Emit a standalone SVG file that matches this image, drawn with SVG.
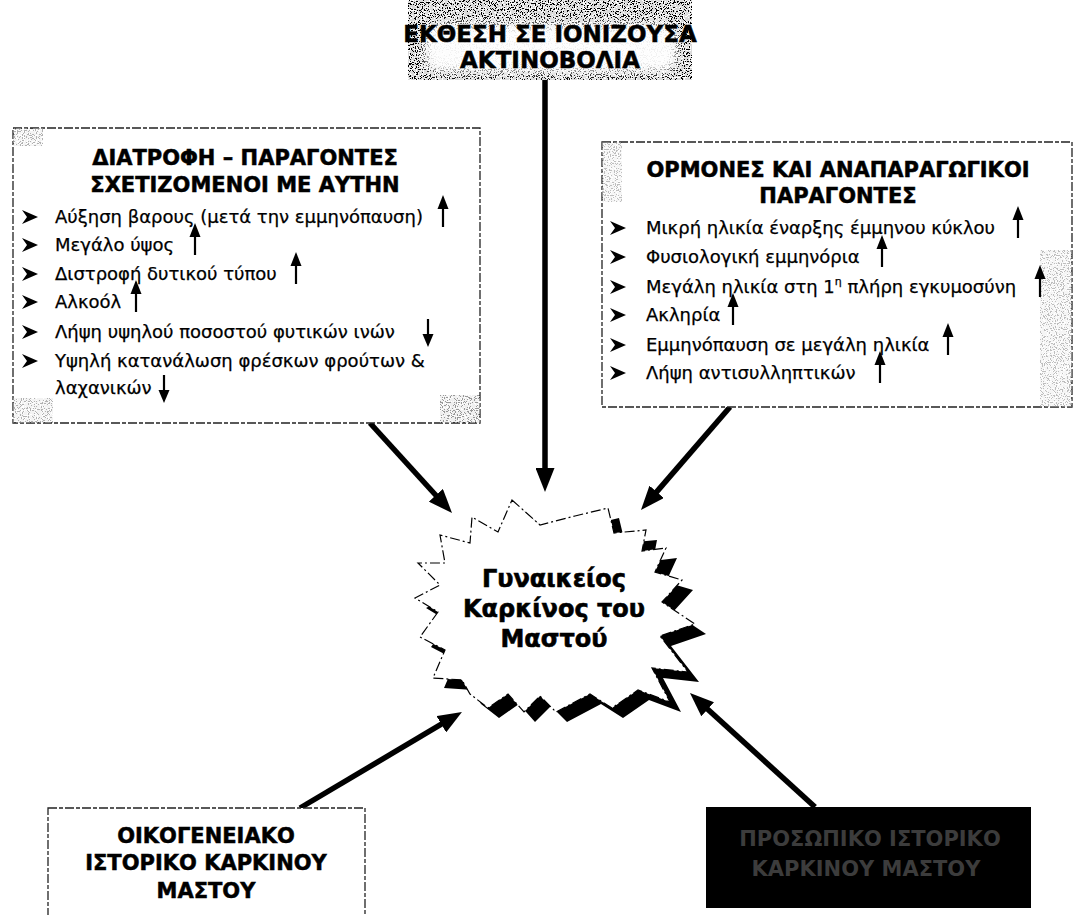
<svg xmlns="http://www.w3.org/2000/svg" width="1074" height="915" viewBox="0 0 1074 915">
<defs>
<style>
.hdr{font-family:"DejaVu Sans","Verdana",sans-serif;font-weight:bold;font-size:21px;fill:#000;text-anchor:middle;stroke:#000;stroke-width:0.5}
.body{font-family:"DejaVu Sans","Tahoma",sans-serif;font-size:18px;fill:#000;stroke:#000;stroke-width:0.25}
.box{fill:#fff;stroke:#222;stroke-width:1.3;stroke-dasharray:9 2 4 2}
.conn{stroke:#000;stroke-width:5.5;fill:none;marker-end:url(#ah)}
.burst{font-family:"DejaVu Sans",sans-serif;font-weight:bold;font-size:24px;fill:#000;text-anchor:middle;stroke:#000;stroke-width:0.6}
</style>
<marker id="ah" markerUnits="userSpaceOnUse" viewBox="0 0 24 19" markerWidth="24" markerHeight="19" refX="3" refY="9.5" orient="auto">
<path d="M0,0 L24,9.5 L0,19 z" fill="#000"/>
</marker>
<symbol id="bul" overflow="visible"><path d="M0,-13 L16,-6 L0,1 L5,-6 z" fill="#000"/></symbol>
<symbol id="up" overflow="visible"><path d="M0,4 V-15" stroke="#000" stroke-width="2.2"/><path d="M-5.5,-14 L0,-28 L5.5,-14 z" fill="#000"/></symbol>
<symbol id="dn" overflow="visible"><path d="M0,-19 V-2" stroke="#000" stroke-width="2.2"/><path d="M-5.5,-4 L0,9 L5.5,-4 z" fill="#000"/></symbol>
<filter id="speckle" filterUnits="objectBoundingBox" x="0" y="0" width="1" height="1">
<feTurbulence type="fractalNoise" baseFrequency="0.85" numOctaves="2" seed="4" result="n"/>
<feColorMatrix in="n" type="saturate" values="0" result="g"/>
<feComponentTransfer in="g">
<feFuncR type="discrete" tableValues="0 0 0 0.7 1 1 1"/>
<feFuncG type="discrete" tableValues="0 0 0 0.7 1 1 1"/>
<feFuncB type="discrete" tableValues="0 0 0 0.7 1 1 1"/>
<feFuncA type="table" tableValues="1 1"/>
</feComponentTransfer>
</filter>
<filter id="speckleDark" filterUnits="objectBoundingBox" x="0" y="0" width="1" height="1">
<feTurbulence type="fractalNoise" baseFrequency="0.9" numOctaves="2" seed="9" result="n"/>
<feColorMatrix in="n" type="saturate" values="0" result="g"/>
<feComponentTransfer in="g">
<feFuncR type="discrete" tableValues="0 0 0 0 0 0.9"/>
<feFuncG type="discrete" tableValues="0 0 0 0 0 0.9"/>
<feFuncB type="discrete" tableValues="0 0 0 0 0 0.9"/>
<feFuncA type="table" tableValues="1 1"/>
</feComponentTransfer>
</filter>
<filter id="soft" x="-20%" y="-50%" width="140%" height="200%"><feGaussianBlur stdDeviation="5"/></filter>
</defs>
<rect width="1074" height="915" fill="#fff"/>

<g id="connectors">
<line class="conn" x1="545" y1="78" x2="545" y2="471"/>
<line class="conn" x1="370" y1="423" x2="437.9" y2="497.5"/>
<line class="conn" x1="730" y1="407" x2="654.7" y2="494.1"/>
<line class="conn" x1="300" y1="808" x2="443.9" y2="722.7"/>
<line class="conn" x1="815" y1="807" x2="705.5" y2="707.2"/>
</g>

<g id="node-radiation">
<rect x="408" y="0" width="284" height="80" filter="url(#speckle)"/>
<rect x="425" y="24" width="252" height="48" rx="14" fill="#fff" opacity="0.95" filter="url(#soft)"/>
<text class="hdr" style="font-size:23px" x="550" y="42">ΕΚΘΕΣΗ ΣΕ ΙΟΝΙΖΟΥΣΑ</text>
<text class="hdr" style="font-size:23px" x="550" y="68">ΑΚΤΙΝΟΒΟΛΙΑ</text>
</g>

<g id="node-diet">
<rect class="box" x="13" y="128" width="467" height="295"/>
<rect x="13" y="128" width="30" height="18" filter="url(#speckle)" opacity="0.3"/>
<rect x="440" y="395" width="40" height="28" filter="url(#speckle)" opacity="0.4"/>
<rect x="13" y="398" width="40" height="25" filter="url(#speckle)" opacity="0.3"/>
<text class="hdr" x="245" y="165">ΔΙΑΤΡΟΦΗ – ΠΑΡΑΓΟΝΤΕΣ</text>
<text class="hdr" x="245" y="192">ΣΧΕΤΙΖΟΜΕΝΟΙ ΜΕ ΑΥΤΗΝ</text>
<use href="#bul" x="22" y="223"/>
<text class="body" x="55" y="223">Αύξηση βαρους (μετά την εμμηνόπαυση)</text>
<use href="#up" x="443" y="223"/>
<use href="#bul" x="22" y="251"/>
<text class="body" x="55" y="251">Μεγάλο ύψος</text>
<use href="#up" x="195" y="251"/>
<use href="#bul" x="22" y="280"/>
<text class="body" x="55" y="280">Διστροφή δυτικού τύπου</text>
<use href="#up" x="296" y="280"/>
<use href="#bul" x="22" y="308"/>
<text class="body" x="55" y="308">Αλκοόλ</text>
<use href="#up" x="136" y="308"/>
<use href="#bul" x="22" y="338"/>
<text class="body" x="55" y="338">Λήψη υψηλού ποσοστού φυτικών ινών</text>
<use href="#dn" x="428" y="338"/>
<use href="#bul" x="22" y="367"/>
<text class="body" x="55" y="367">Υψηλή κατανάλωση φρέσκων φρούτων &amp;</text>
<text class="body" x="55" y="394">λαχανικών</text>
<use href="#dn" x="164" y="394"/>
</g>

<g id="node-hormones">
<rect class="box" x="602" y="142" width="470" height="265"/>
<rect x="602" y="142" width="20" height="60" filter="url(#speckle)" opacity="0.25"/>
<rect x="1040" y="250" width="32" height="157" filter="url(#speckle)" opacity="0.25"/>
<text class="hdr" x="838" y="177">ΟΡΜΟΝΕΣ ΚΑΙ ΑΝΑΠΑΡΑΓΩΓΙΚΟΙ</text>
<text class="hdr" x="838" y="203">ΠΑΡΑΓΟΝΤΕΣ</text>
<use href="#bul" x="610" y="234"/>
<text class="body" x="646" y="234">Μικρή ηλικία έναρξης έμμηνου κύκλου</text>
<use href="#up" x="1018" y="234"/>
<use href="#bul" x="610" y="263"/>
<text class="body" x="646" y="263">Φυσιολογική εμμηνόρια</text>
<use href="#up" x="882" y="263"/>
<use href="#bul" x="610" y="293"/>
<text class="body" x="646" y="293">Μεγάλη ηλικία στη 1<tspan style="font-size:11px" dy="-8">η</tspan><tspan dy="8"> πλήρη εγκυμοσύνη</tspan></text>
<use href="#up" x="1040" y="293"/>
<use href="#bul" x="610" y="321"/>
<text class="body" x="646" y="321">Ακληρία</text>
<use href="#up" x="733" y="321"/>
<use href="#bul" x="610" y="351"/>
<text class="body" x="646" y="351">Εμμηνόπαυση σε μεγάλη ηλικία</text>
<use href="#up" x="948" y="351"/>
<use href="#bul" x="610" y="379"/>
<text class="body" x="646" y="379">Λήψη αντισυλληπτικών</text>
<use href="#up" x="880" y="379"/>
</g>

<g id="node-cancer">
<polygon transform="translate(11,10)" fill="#000" points="512,500 540,525 575,516 608,508 614,533 646,530 642,551 666,548 655,572 682,580 662,602 695,624 660,636 688,672 652,668 670,702 638,690 612,708 590,694 556,712 540,696 524,712 508,694 488,708 470,694 462,680 433,678 445,650 420,637 438,612 415,598 440,585 418,563 445,563 440,535 470,543 472,517 498,532"/>
<polygon fill="#fff" stroke="#000" stroke-width="1.2" stroke-dasharray="10 3 2 3" points="512,500 540,525 575,516 608,508 614,533 646,530 642,551 666,548 655,572 682,580 662,602 695,624 660,636 688,672 652,668 670,702 638,690 612,708 590,694 556,712 540,696 524,712 508,694 488,708 470,694 462,680 433,678 445,650 420,637 438,612 415,598 440,585 418,563 445,563 440,535 470,543 472,517 498,532"/>
<text class="burst" x="554" y="587">Γυναικείος</text>
<text class="burst" x="554" y="617">Καρκίνος του</text>
<text class="burst" x="554" y="647">Μαστού</text>
</g>

<g id="node-family">
<rect class="box" x="48" y="808" width="317" height="120"/>
<text class="hdr" x="206" y="843">ΟΙΚΟΓΕΝΕΙΑΚΟ</text>
<text class="hdr" x="206" y="870">ΙΣΤΟΡΙΚΟ ΚΑΡΚΙΝΟΥ</text>
<text class="hdr" x="206" y="898">ΜΑΣΤΟΥ</text>
</g>

<g id="node-personal">
<rect x="706" y="807" width="325" height="101" fill="#000"/>
<rect x="735" y="828" width="272" height="58" filter="url(#speckleDark)" opacity="0.55"/>
<text class="hdr" x="870" y="846" style="fill:#3c3c3c;stroke:none">ΠΡΟΣΩΠΙΚΟ ΙΣΤΟΡΙΚΟ</text>
<text class="hdr" x="866" y="876" style="fill:#3c3c3c;stroke:none">ΚΑΡΚΙΝΟΥ ΜΑΣΤΟΥ</text>
</g>
</svg>
